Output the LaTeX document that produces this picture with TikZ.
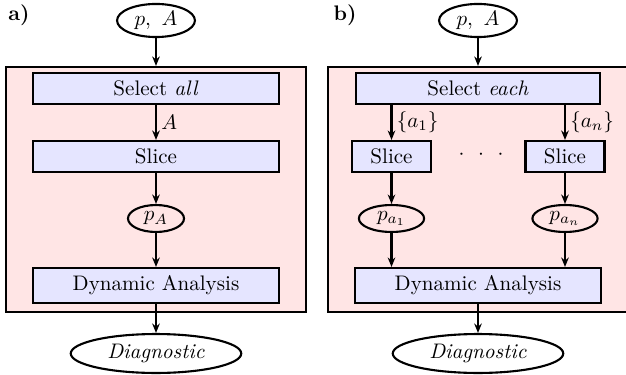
\documentclass[tikz,border=0pt]{standalone}
\usetikzlibrary{shapes.geometric,arrows.meta}

\tikzset{every picture/.style={line width=1pt}}
\tikzset{
	stage/.style={draw,fill=blue!10,minimum height=14.7pt,inner sep=2pt},
	data/.style={draw,ellipse,inner sep=1pt},
	frame/.style={draw,fill=red!10,minimum width=142.5pt,minimum height=116.4pt},
	flow/.style={-{Stealth[length=4.5pt,width=3.6pt]}}}

\begin{document}
\begin{tikzpicture}[x=0.475pt,y=0.475pt,yscale=-1,xscale=1]
	\useasboundingbox (0,0) rectangle (626,375);

	% panel a
	\node[font=\bfseries] (labA) at (19,15) {a)};
	\node[frame] (frameA) at (156,189.5) {};
	\node[data,minimum width=37pt,minimum height=15.7pt] (topA) at (156,20.5) {$p,\ A$};
	\node[stage,minimum width=116.9pt] (selA) at (156,88.5) {Select \emph{all}};
	\node[stage,minimum width=116.9pt] (sliceA) at (156,156.5) {Slice};
	\node[data,minimum width=26.6pt,minimum height=12.8pt] (pA) at (156,218.5) {$p_A$};
	\node[stage,minimum width=116.9pt,minimum height=16.6pt] (dynA) at (156,285.5) {Dynamic Analysis};
	\node[data,minimum width=81pt,minimum height=18.5pt] (diagA) at (156,353.5) {\emph{Diagnostic}};

	\draw[flow] (topA) -- (frameA.north);
	\draw[flow] (selA) -- node[right,inner sep=2pt] {$A$} (sliceA);
	\draw[flow] (sliceA) -- (pA);
	\draw[flow] (pA) -- (dynA);
	\draw[flow] (dynA) -- (diagA);

	% panel b
	\node[font=\bfseries] (labB) at (345,15) {b)};
	\node[frame] (frameB) at (478,189.5) {};
	\node[data,minimum width=37pt,minimum height=15.7pt] (topB) at (478,20.5) {$p,\ A$};
	\node[stage,minimum width=116pt] (selB) at (478,88.5) {Select \emph{each}};
	\node[stage,minimum width=37.5pt] (sliceB1) at (391.5,156.5) {Slice};
	\node[stage,minimum width=37.5pt] (sliceBn) at (565,156.5) {Slice};
	\node (dotsB) at (481,155) {${\cdot}\hspace{6.5pt}{\cdot}\hspace{6.5pt}{\cdot}$};
	\node[data,minimum width=31pt,minimum height=12.8pt] (pB1) at (391.5,218.5) {$p_{a_1}$};
	\node[data,minimum width=31pt,minimum height=12.8pt] (pBn) at (565,218.5) {$p_{a_n}$};
	\node[stage,minimum width=116.9pt,minimum height=16.6pt] (dynB) at (478,285.5) {Dynamic Analysis};
	\node[data,minimum width=81pt,minimum height=18.5pt] (diagB) at (478,353.5) {\emph{Diagnostic}};

	\draw[flow] (topB) -- (frameB.north);
	\draw[flow] (sliceB1 |- selB.south) -- node[right,inner sep=2pt] {$\{a_1\}$} (sliceB1);
	\draw[flow] (sliceBn |- selB.south) -- node[right,inner sep=2pt] {$\{a_n\}$} (sliceBn);
	\draw[flow] (sliceB1) -- (pB1);
	\draw[flow] (sliceBn) -- (pBn);
	\draw[flow] (pB1) -- (pB1 |- dynB.north);
	\draw[flow] (pBn) -- (pBn |- dynB.north);
	\draw[flow] (dynB) -- (diagB);

\end{tikzpicture}
\end{document}
